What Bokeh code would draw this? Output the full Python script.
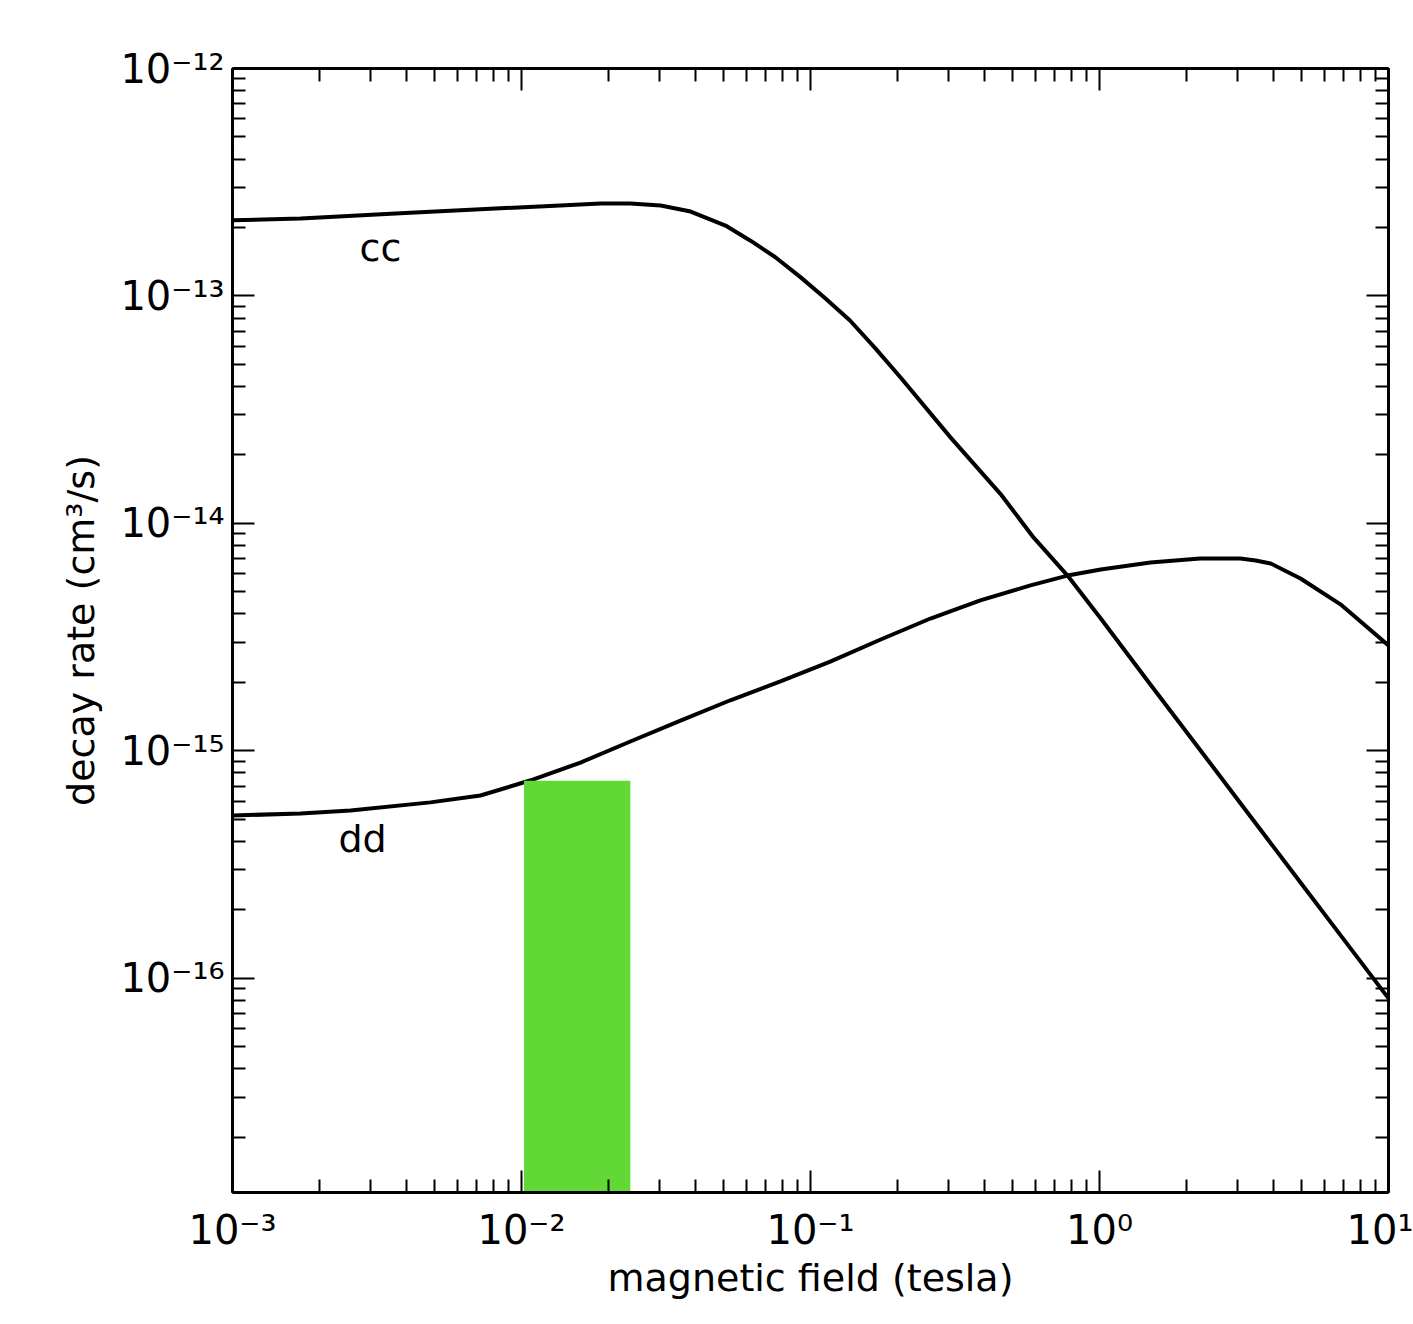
from bokeh.plotting import figure
from bokeh.models import Range1d, LogAxis, FixedTicker, ColumnDataSource, CustomJSTickFormatter
from bokeh.embed import file_html
from bokeh.resources import INLINE
from bokeh.core.properties import value

# ---- data ----
cc_field = [1.0e-3, 1.72e-3, 3.81e-3, 8.45e-3, 1.36e-2, 1.88e-2, 2.38e-2, 3.03e-2, 3.85e-2,
            5.08e-2, 6.20e-2, 7.56e-2, 9.23e-2, 0.1127, 0.137, 0.168, 0.205, 0.305, 0.454,
            0.591, 0.775, 1.01, 1.50, 2.23, 3.33, 4.96, 7.39, 10.0]
cc_rate = [2.15e-13, 2.19e-13, 2.31e-13, 2.43e-13, 2.50e-13, 2.55e-13, 2.55e-13, 2.50e-13, 2.35e-13,
           2.04e-13, 1.75e-13, 1.48e-13, 1.21e-13, 9.75e-14, 7.80e-14, 5.87e-14, 4.38e-14, 2.39e-14, 1.35e-14,
           8.68e-15, 5.90e-15, 3.82e-15, 1.96e-15, 1.01e-15, 5.15e-16, 2.64e-16, 1.355e-16, 8.17e-17]

dd_field = [1.0e-3, 1.72e-3, 2.56e-3, 4.84e-3, 7.21e-3, 1.07e-2, 1.60e-2, 2.38e-2, 3.55e-2,
            5.28e-2, 7.87e-2, 0.117, 0.175, 0.260, 0.387, 0.577, 0.775, 1.01, 1.50,
            2.23, 3.07, 3.47, 3.91, 4.96, 6.82, 10.0]
dd_rate = [5.20e-16, 5.31e-16, 5.47e-16, 5.94e-16, 6.37e-16, 7.41e-16, 8.89e-16, 1.10e-15, 1.36e-15,
           1.67e-15, 2.02e-15, 2.47e-15, 3.09e-15, 3.82e-15, 4.59e-15, 5.34e-15, 5.90e-15, 6.28e-15, 6.74e-15,
           7.02e-15, 7.02e-15, 6.87e-15, 6.67e-15, 5.73e-15, 4.41e-15, 2.91e-15]

band_left = [1.02e-2]
band_right = [2.38e-2]
band_top = [7.4e-16]

curve_labels = ["cc", "dd"]
label_field = [3.25e-3, 2.82e-3]
label_rate = [1.62e-13, 4.12e-16]

x_ticks = [1e-3, 1e-2, 1e-1, 1.0, 10.0]
x_tick_labels = ["10⁻³", "10⁻²", "10⁻¹", "10⁰", "10¹"]
y_ticks = [1e-16, 1e-15, 1e-14, 1e-13, 1e-12]
y_tick_labels = ["10⁻¹⁶", "10⁻¹⁵", "10⁻¹⁴", "10⁻¹³", "10⁻¹²"]

X_MIN, X_MAX = 1e-3, 10.0
Y_MIN, Y_MAX = 1.145e-17, 1e-12

FONT = "DejaVu Sans"


def minors(lo_exp, hi_exp):
    out = []
    for e in range(lo_exp, hi_exp):
        for k in range(2, 10):
            out.append(k * 10.0 ** e)
    return out


x_minor = minors(-3, 1)
y_minor = minors(-17, -12)

p = figure(width=1413, height=1324, x_axis_type="log", y_axis_type="log",
           x_range=Range1d(X_MIN, X_MAX), y_range=Range1d(Y_MIN, Y_MAX),
           output_backend="svg", toolbar_location=None,
           min_border_left=232, min_border_right=25, min_border_top=68, min_border_bottom=132)
p.grid.visible = False
p.outline_line_color = "black"
p.outline_line_width = 2
p.background_fill_color = "white"
p.border_fill_color = "white"


def label_formatter(vals, labels):
    return CustomJSTickFormatter(args=dict(tvals=vals, tlabels=labels), code="""
        let best = -1, bd = Infinity;
        for (let i = 0; i < tvals.length; i++) {
            const d = Math.abs(Math.log10(tvals[i]) - Math.log10(tick));
            if (d < bd) { bd = d; best = i; }
        }
        return (best >= 0 && bd < 1e-6) ? tlabels[best] : "";
    """)


def style_axis(ax, vals, minor, labels, show_labels):
    ax.ticker = FixedTicker(ticks=vals, minor_ticks=minor)
    ax.axis_line_width = 3
    ax.axis_line_color = "black"
    ax.major_tick_in = 22
    ax.major_tick_out = 0
    ax.minor_tick_in = 13
    ax.minor_tick_out = 0
    ax.major_tick_line_width = 2
    ax.minor_tick_line_width = 2
    ax.major_tick_line_color = "black"
    ax.minor_tick_line_color = "black"
    if show_labels:
        ax.formatter = label_formatter(vals, labels)
        ax.major_label_text_font = FONT
        ax.major_label_text_font_size = "40px"
        ax.major_label_text_color = "black"
    else:
        ax.formatter = CustomJSTickFormatter(code="return ' ';")
        ax.major_label_text_font_size = "8px"
        ax.major_label_text_alpha = 0
        ax.major_label_standoff = 0


xa = p.xaxis[0]
ya = p.yaxis[0]
style_axis(xa, x_ticks, x_minor, x_tick_labels, True)
style_axis(ya, y_ticks, y_minor, y_tick_labels, True)
xa.major_label_standoff = 14
ya.major_label_standoff = 8
ya.major_label_orientation = "horizontal"

xa.axis_label = "magnetic field (tesla)"
ya.axis_label = "decay rate (cm³/s)"
for ax in (xa, ya):
    ax.axis_label_text_font = FONT
    ax.axis_label_text_font_size = "38px"
    ax.axis_label_text_font_style = "normal"
    ax.axis_label_text_color = "black"
xa.axis_label_standoff = 0
ya.axis_label_standoff = 14

top = LogAxis()
right = LogAxis()
style_axis(top, x_ticks, x_minor, x_tick_labels, False)
style_axis(right, y_ticks, y_minor, y_tick_labels, False)
p.add_layout(top, "above")
p.add_layout(right, "right")

p.line(cc_field, cc_rate, line_color="black", line_width=4)
p.line(dd_field, dd_rate, line_color="black", line_width=4)

p.quad(left=band_left, right=band_right, top=band_top, bottom=[Y_MIN],
       fill_color="#62D836", line_color=None)

src = ColumnDataSource(dict(x=label_field, y=label_rate, t=curve_labels))
p.text(x="x", y="y", text="t", source=src, text_font=value(FONT), text_font_size="38px",
       text_align="center", text_baseline="middle", text_color="black")

open("out.html", "w").write(file_html(p, INLINE))
